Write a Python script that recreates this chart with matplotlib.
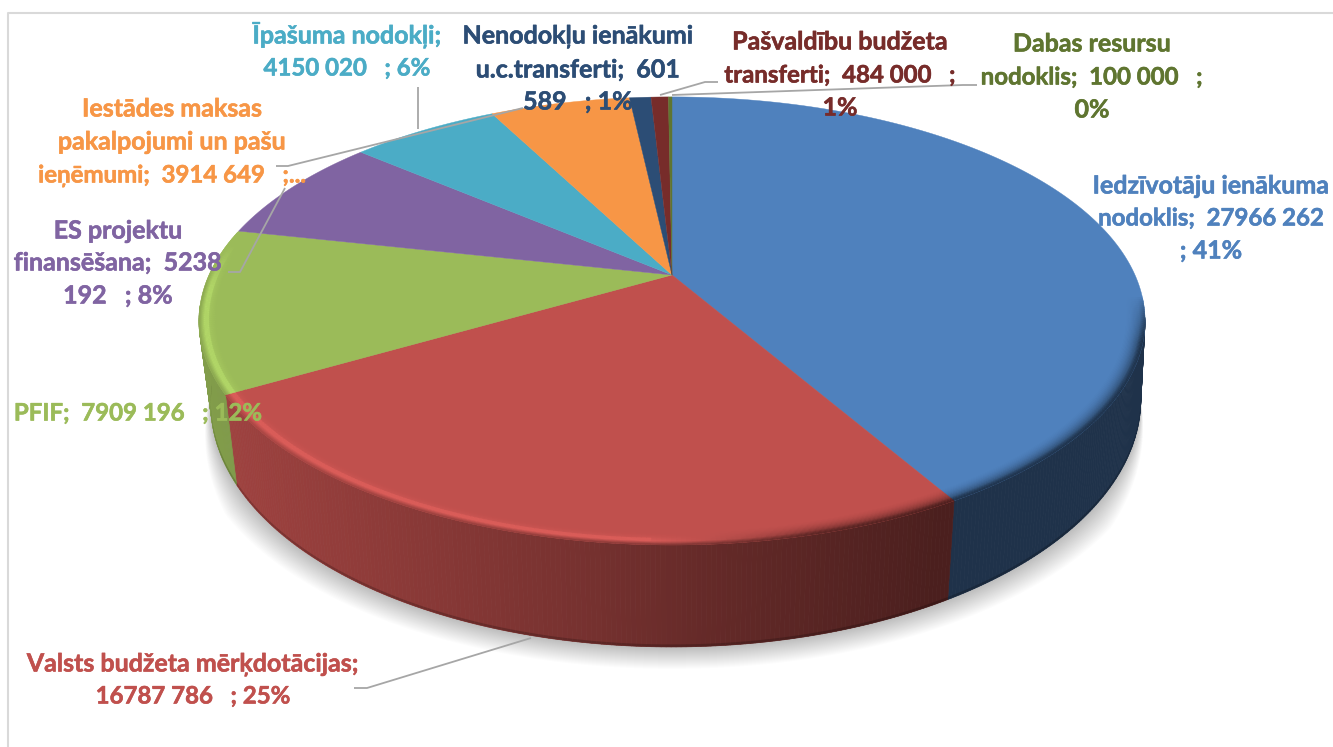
import numpy as np
import matplotlib
matplotlib.use("Agg")
import matplotlib.pyplot as plt
import matplotlib.patheffects as pe
from matplotlib.collections import PolyCollection
from matplotlib.colors import to_rgb

categories = ["Iedzīvotāju ienākuma nodoklis", "Valsts budžeta mērķdotācijas", "PFIF",
              "ES projektu finansēšana", "Īpašuma nodokļi", "Iestādes maksas pakalpojumi un pašu ieņēmumi",
              "Nenodokļu ienākumi u.c.transferti", "Pašvaldību budžeta transferti", "Dabas resursu nodoklis"]
values = [27966262, 16787786, 7909196, 5238192, 4150020, 3914649, 601589, 484000, 100000]
colors = ["#4f81bd", "#c0504d", "#9bbb59", "#8064a2", "#4bacc6", "#f79646", "#2c4d75", "#772c2a", "#5f7530"]

label_lines = [
    (0, 1211, [(186, "Iedzīvotāju ienākuma"), (218, "nodoklis;  27966 262"), (251, "; 41%")]),
    (1, 193, [(664, "Valsts budžeta mērķdotācijas;"), (696, "16787 786   ; 25%")]),
    (2, 138, [(413, "PFIF;  7909 196   ; 12%")]),
    (3, 118, [(231, "ES projektu"), (263, "finansēšana;  5238"), (296, "192   ; 8%")]),
    (4, 347, [(35, "Īpašuma nodokļi;"), (68, "4150 020   ; 6%")]),
    (5, 172, [(109, "Iestādes maksas"), (142, "pakalpojumi un pašu"), (175, "ieņēmumi;  3914 649   ;...")]),
    (6, 578, [(36, "Nenodokļu ienākumi"), (70, "u.c.transferti;  601"), (102, "589   ; 1%")]),
    (7, 840, [(42, "Pašvaldību budžeta"), (75, "transferti;  484 000   ;"), (108, "1%")]),
    (8, 1092, [(44, "Dabas resursu"), (77, "nodoklis;  100 000   ;"), (110, "0%")]),
]
leaders = [
    [(354, 688), (367, 688), (531, 638)],
    [(228, 272), (240, 272), (285, 188)],
    [(276, 166), (288, 166), (523, 108)],
    [(418, 87), (418, 129)],
    [(660, 95), (705, 82), (718, 82)],
    [(672, 95), (963, 85), (977, 85)],
]

CX, CY, A, B, P = 672.0, 275.0, 463.0, 214.6, 0.205


def top(t, r=1.0):
    u, v = r * np.sin(t), r * np.cos(t)
    k = 1 / (1 + P * v)
    return CX + A * u * k, CY - B * v * k


def bottom(t):
    x, y = top(t)
    scale = 0.975 + 0.02 * (1 - np.abs(np.cos(t))) * (np.sin(t) > 0)
    return CX + (x - CX) * scale, y + 78 - 24 * np.cos(t)


def brightness(x):
    return np.interp(x, [200, 580, 700, 940], [0.84, 0.62, 0.53, 0.39])


fig = plt.figure(figsize=(13.33, 7.47), dpi=100, facecolor="white")
ax = fig.add_axes([0, 0, 1, 1])
ax.set_xlim(0, 1333)
ax.set_ylim(747, 0)
ax.axis("off")

# frame
ax.plot([7.5, 7.5, 1333], [747, 12.5, 12.5], color="#d9d9d9", lw=1.5, zorder=0)

fractions = np.array(values) / sum(values)
edges = np.concatenate([[0], np.cumsum(fractions)]) * 2 * np.pi
WALL_LO, WALL_HI = np.radians(101), np.radians(262)

# soft shadow, tapering off towards both ends of the wall
ts = np.linspace(WALL_LO, WALL_HI, 300)
bx, by = bottom(ts)
taper = np.clip(np.minimum(ts - WALL_LO, WALL_HI - ts) / np.radians(25), 0, 1)
for g in range(1, 23):
    sx = CX + (bx - CX) * (1 + g * taper / 470)
    sy = by + g * taper * (0.55 + 0.45 * np.clip(-np.cos(ts), 0, 1))
    ax.fill(np.r_[sx, CX], np.r_[sy, CY], color="black", alpha=0.012, lw=0, zorder=1)

# side wall
for i, c in enumerate(colors):
    face = np.array(to_rgb(c))
    lo, hi = max(edges[i], WALL_LO), min(edges[i + 1], WALL_HI)
    if hi <= lo:
        continue
    t = np.linspace(lo, hi, max(2, int(np.degrees(hi - lo) * 2) + 1))
    quads, cols, lip, lipcols = [], [], [], []
    for a, b in zip(t[:-1], t[1:]):
        xa, ya = top(a)
        xb, yb = top(b)
        xc, yc = bottom(b)
        xd, yd = bottom(a)
        quads.append([(xa, ya), (xb, yb), (xc, yc), (xd, yd)])
        col = face * brightness((xa + xb) / 2)
        cols.append(col)
        lip.append([(xd, yd - 2.5), (xc, yc - 2.5), (xc, yc), (xd, yd)])
        lipcols.append(col * 0.8)
    ax.add_collection(PolyCollection(quads, facecolors=cols, edgecolors=cols, linewidths=0.5, zorder=2))
    ax.add_collection(PolyCollection(lip, facecolors=lipcols, edgecolors="none", zorder=2.5))

# top face
for i, c in enumerate(colors):
    t = np.linspace(edges[i], edges[i + 1], max(2, int(np.degrees(edges[i + 1] - edges[i]) * 2) + 1))
    x, y = top(t)
    ax.fill(np.r_[CX, x], np.r_[CY, y], color=c, lw=0.3, zorder=3)

# bevel along the front rim
radii = np.linspace(0.96, 1.0, 17)
for i, c in enumerate(colors):
    face = np.array(to_rgb(c))
    lo, hi = max(edges[i], np.radians(96)), min(edges[i + 1], np.radians(282))
    if hi <= lo:
        continue
    t = np.linspace(lo, hi, max(2, int(np.degrees(hi - lo) * 2) + 1))
    quads, cols = [], []
    for a, b in zip(t[:-1], t[1:]):
        tm = (a + b) / 2
        xm = top(tm)[0]
        offset = -0.10 if np.sin(tm) > 0 else 0.15
        strength = np.clip((-np.cos(tm) + offset) / 0.2, 0, 1)
        mix = np.clip((xm - 650) / 170, 0, 1)
        light = np.clip(face * 1.2 + 0.02, 0, 1)
        dark = face * brightness(xm)
        target = light * (1 - mix) + dark * mix
        for r0, r1 in zip(radii[:-1], radii[1:]):
            f = ((r1 - 0.96) / 0.04) ** 2 * strength
            if mix == 0 and r1 > 0.98:
                f = min(1.0, 0.65 * strength)
            col = face + (target - face) * f
            w = np.clip((r1 - 0.99) / 0.01, 0, 1) * 0.75 * strength
            col = col * (1 - w) + dark * w
            xa, ya = top(a, r0)
            xb, yb = top(b, r0)
            xc, yc = top(b, r1)
            xd, yd = top(a, r1)
            quads.append([(xa, ya), (xb, yb), (xc, yc), (xd, yd)])
            cols.append(col)
    ax.add_collection(PolyCollection(quads, facecolors=cols, edgecolors=cols, linewidths=0.25, zorder=4))

# leader lines
for pts in leaders:
    xs, ys = zip(*pts)
    ax.plot(xs, ys, color="#a6a6a6", lw=1.3, zorder=5, solid_capstyle="butt")

# labels: digits of the substitute font run wider, so number-heavy lines are set a little smaller
for idx, xc, lines in label_lines:
    for y, s in lines:
        size = 17.3 if sum(ch.isdigit() for ch in s) >= 6 else 18
        ax.text(xc, y, s, color=colors[idx], family=["Lato", "DejaVu Sans"], weight="bold",
                fontsize=size, ha="center", va="center", zorder=6,
                path_effects=[pe.withStroke(linewidth=0.4, foreground=colors[idx])])

fig.savefig("out.png", dpi=100)
